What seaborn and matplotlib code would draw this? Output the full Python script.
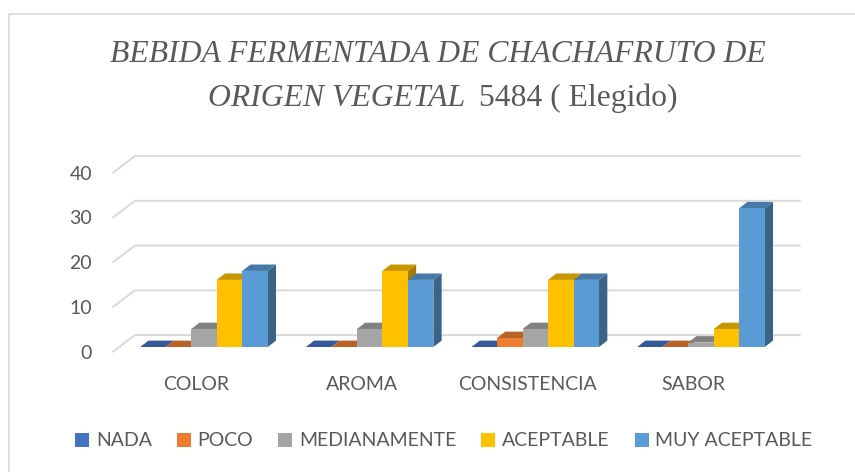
import matplotlib
matplotlib.use("Agg")
import numpy as np
import pandas as pd
import matplotlib.pyplot as plt
import matplotlib.transforms as mtransforms
from matplotlib.patches import Polygon, Rectangle
from matplotlib.lines import Line2D
import seaborn as sns

# --- Data ---
CATEGORIES = ["COLOR", "AROMA", "CONSISTENCIA", "SABOR"]
LEVELS = ["NADA", "POCO", "MEDIANAMENTE", "ACEPTABLE", "MUY ACEPTABLE"]
NADA = [0, 0, 0, 0]
POCO = [0, 0, 2, 0]
MEDIANAMENTE = [4, 4, 4, 1]
ACEPTABLE = [15, 17, 15, 4]
MUY_ACEPTABLE = [17, 15, 15, 31]
Y_TICKS = [0, 10, 20, 30, 40]

TITLE_1 = "BEBIDA FERMENTADA DE CHACHAFRUTO DE"
TITLE_2A = "ORIGEN VEGETAL"
TITLE_2B = "5484 ( Elegido)"

# --- Style ---
COLORS = ["#4472C4", "#ED7D31", "#A5A5A5", "#FFC000", "#5B9BD5"]
TEXT_GREY = "#595959"
GRID_GREY = "#D9D9D9"
UI_FONT = ["Lato", "DejaVu Sans"]
TITLE_FONT = ["Liberation Serif", "DejaVu Serif"]
TITLE_SIZE = 22.8
W, H, DPI = 855, 472, 100

# fake 3D geometry (data units)
X_LEFT, X_RIGHT = -0.549, 3.598
Y_LOW, Y_HIGH = -4.02, 44.02
WALL_DX, WALL_FRONT, WALL_BACK = 0.133, -1.05, 2.67
BAR_DX, BAR_DY = 0.05, 1.43

sns.set_style("white")
plt.rcParams["font.family"] = UI_FONT

series = [NADA, POCO, MEDIANAMENTE, ACEPTABLE, MUY_ACEPTABLE]
df = pd.DataFrame({
    "criterio": CATEGORIES * len(LEVELS),
    "nivel": np.repeat(LEVELS, len(CATEGORIES)),
    "valor": np.concatenate(series),
})

fig = plt.figure(figsize=(W / DPI, H / DPI), dpi=DPI)
ax = fig.add_axes([113 / W, 1 - 365 / H, 687 / W, 215 / H])
ax.patch.set_alpha(0)

sns.barplot(data=df, x="criterio", y="valor", hue="nivel", order=CATEGORIES,
            hue_order=LEVELS, palette=COLORS, saturation=1, width=0.77, gap=0,
            errorbar=None, legend=False, linewidth=0, ax=ax)


def shade(color, f):
    r, g, b = matplotlib.colors.to_rgb(color)
    return (r * f, g * f, b * f)


# --- 3D faces on the bars ---
for h, cont in enumerate(ax.containers):
    col = COLORS[h]
    for bar in cont:
        x, y = bar.get_x(), bar.get_y()
        w, hgt = bar.get_width(), bar.get_height()
        bar.set_zorder(10 + 2 * h + 1)
        top = Polygon([(x, y + hgt), (x + w, y + hgt),
                       (x + w + BAR_DX, y + hgt + BAR_DY), (x + BAR_DX, y + hgt + BAR_DY)],
                      closed=True, fc=shade(col, 0.78), lw=0, zorder=10 + 2 * h)
        side = Polygon([(x + w, y), (x + w + BAR_DX, y + BAR_DY),
                        (x + w + BAR_DX, y + hgt + BAR_DY), (x + w, y + hgt)],
                       closed=True, fc=shade(col, 0.64), lw=0, zorder=10 + 2 * h)
        ax.add_patch(side)
        ax.add_patch(top)

# --- back wall gridlines ---
for v in Y_TICKS:
    ax.plot([X_LEFT, X_LEFT + WALL_DX, X_RIGHT],
            [v + WALL_FRONT, v + WALL_BACK, v + WALL_BACK],
            color=GRID_GREY, lw=1.4, zorder=1, clip_on=False)

ax.set_xlim(X_LEFT, X_RIGHT)
ax.set_ylim(Y_LOW, Y_HIGH)
ax.set_yticks([v + WALL_FRONT for v in Y_TICKS], labels=[str(v) for v in Y_TICKS])
ax.set_xlabel("")
ax.set_ylabel("")
ax.grid(False)
sns.despine(ax=ax, left=True, bottom=True)
ax.tick_params(axis="both", length=0, labelsize=14, labelcolor=TEXT_GREY)
ax.tick_params(axis="y", pad=15)
ax.tick_params(axis="x", pad=8)

shift = mtransforms.ScaledTranslation(-7.5 / DPI, 0, fig.dpi_scale_trans)
for lab in ax.get_xticklabels():
    lab.set_transform(lab.get_transform() + shift)

# --- legend ---
handles = [Line2D([], [], marker="s", ls="none", markersize=10,
                  markerfacecolor=c, markeredgewidth=0) for c in COLORS]
fig.legend(handles, LEVELS, ncol=5, loc="center", bbox_to_anchor=(444 / W, 1 - 441 / H),
           frameon=False, handlelength=0.7, handletextpad=0.35, columnspacing=1.3,
           prop={"size": 14}, labelcolor=TEXT_GREY)

# --- title ---
fig.text(438 / W, 1 - 62 / H, TITLE_1, ha="center", va="baseline", fontsize=TITLE_SIZE,
         style="italic", family=TITLE_FONT, color=TEXT_GREY)
t2a = fig.text(0, 1 - 106 / H, TITLE_2A, ha="left", va="baseline", fontsize=TITLE_SIZE,
               style="italic", family=TITLE_FONT, color=TEXT_GREY)
t2b = fig.text(0, 1 - 106 / H, TITLE_2B, ha="left", va="baseline", fontsize=TITLE_SIZE,
               family=TITLE_FONT, color=TEXT_GREY)
renderer = fig.canvas.get_renderer()
wa = t2a.get_window_extent(renderer).width
wb = t2b.get_window_extent(renderer).width
gap = 14
start = 443 - (wa + gap + wb) / 2
t2a.set_x(start / W)
t2b.set_x((start + wa + gap) / W)

# --- chart border ---
fig.add_artist(Rectangle((9 / W, -0.1), 1.2, 1.1 - 14 / H, transform=fig.transFigure,
                         fill=False, ec=GRID_GREY, lw=1.2))

fig.savefig("out.png", dpi=DPI)
